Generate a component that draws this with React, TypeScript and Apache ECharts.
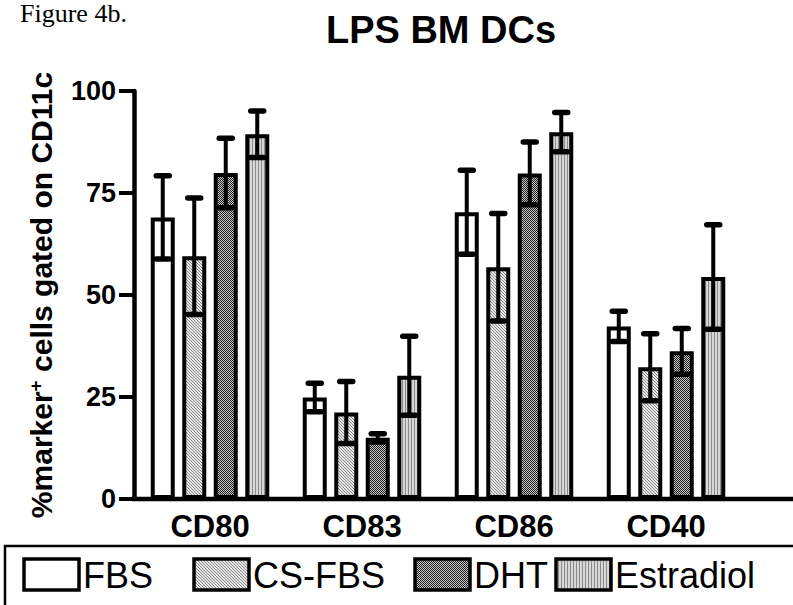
import React, { useEffect, useRef } from 'react';
import * as echarts from 'echarts';

const categories = ['CD80', 'CD83', 'CD86', 'CD40'];
const seriesNames = ['FBS', 'CS-FBS', 'DHT', 'Estradiol'];
const fbsValues = [69, 24.9, 70.3, 42.3];
const fbsErrors = [10.2, 3.5, 10.3, 3.7];
const csFbsValues = [59.5, 21.2, 56.8, 32.3];
const csFbsErrors = [14.3, 7.6, 13.2, 8.2];
const dhtValues = [79.9, 15, 79.8, 36.2];
const dhtErrors = [8.5, 1, 7.7, 5.6];
const estradiolValues = [89.4, 30.2, 89.9, 54.4];
const estradiolErrors = [5.7, 9.7, 4.8, 12.8];
const yTicks = [0, 25, 50, 75, 100];

const FONT = '"Liberation Sans", Arial, Helvetica, sans-serif';

function makePattern(w: number, h: number, fn: (x: number, y: number) => string) {
  const c = document.createElement('canvas');
  c.width = w;
  c.height = h;
  const ctx = c.getContext('2d')!;
  for (let y = 0; y < h; y++) {
    for (let x = 0; x < w; x++) {
      ctx.fillStyle = fn(x, y);
      ctx.fillRect(x, y, 1, 1);
    }
  }
  return { image: c, repeat: 'repeat', imageWidth: w, imageHeight: h } as any;
}

function fills() {
  return [
    '#ffffff',
    makePattern(3, 3, (x, y) => (((x - y + 3) % 3) === 0 ? '#8a8a8a' : '#e6e6e6')),
    makePattern(2, 2, (x, y) => ((x + y) % 2 === 0 ? '#1e1e1e' : '#c8c8c8')),
    makePattern(3, 1, (x) => (x === 0 ? '#8c8c8c' : '#d6d6d6')),
  ];
}

export default function App() {
  const ref = useRef<HTMLDivElement>(null);
  useEffect(() => {
    if (!ref.current) return;
    const chart = echarts.init(ref.current, null, { renderer: 'svg' });
    const values = [fbsValues, csFbsValues, dhtValues, estradiolValues];
    const errors = [fbsErrors, csFbsErrors, dhtErrors, estradiolErrors];
    const barFills = fills();
    const legendFills = fills();
    const barWidth = 24;
    const gapPx = 7.5;
    const step = barWidth + gapPx;

    const barSeries = seriesNames.map((name, i) => ({
      type: 'bar',
      name,
      data: values[i],
      barWidth,
      barGap: (gapPx / barWidth) * 100 + '%',
      itemStyle: { color: barFills[i], borderColor: '#000', borderWidth: 4 },
      z: 2,
    }));

    const errSeries = seriesNames.map((name, i) => {
      const offset = (i - 1.5) * step;
      return {
        type: 'custom',
        name: name + ' error',
        z: 5,
        data: categories.map((_, ci) => [ci, values[i][ci], errors[i][ci]]),
        encode: { x: 0, y: 1 },
        renderItem: (params: any, api: any) => {
          const ci = api.value(0);
          const v = api.value(1);
          const e = api.value(2);
          const x = api.coord([ci, v])[0] + offset;
          const yh = api.coord([ci, v + e])[1];
          const yl = api.coord([ci, v - e])[1];
          const cap = 6.5;
          return {
            type: 'group',
            children: [
              { type: 'line', shape: { x1: x, y1: yh, x2: x, y2: yl }, style: { stroke: '#000', lineWidth: 4 } },
              { type: 'line', shape: { x1: x - cap, y1: yh, x2: x + cap, y2: yh }, style: { stroke: '#000', lineWidth: 5.5, lineCap: 'round' } },
              { type: 'line', shape: { x1: x - cap, y1: yl, x2: x + cap, y2: yl }, style: { stroke: '#000', lineWidth: 5.5, lineCap: 'round' } },
            ],
          };
        },
      };
    });

    const legendX = [24, 194, 415, 556];
    const legendGraphics: any[] = [];
    seriesNames.forEach((name, i) => {
      legendGraphics.push({
        type: 'rect',
        shape: { x: legendX[i], y: 559, width: 55, height: 31 },
        style: { fill: legendFills[i], stroke: '#000', lineWidth: 3.5 },
      });
      legendGraphics.push({
        type: 'text',
        style: {
          x: legendX[i] + 59,
          y: 575,
          text: name,
          font: '36px ' + FONT,
          fill: '#000',
          verticalAlign: 'middle',
        },
      });
    });

    chart.setOption({
      animation: false,
      backgroundColor: '#fff',
      title: {
        text: 'LPS BM DCs',
        left: 436,
        top: 6,
        textAlign: 'center',
        textStyle: { fontFamily: FONT, fontWeight: 'bold', fontSize: 38, color: '#000' },
      },
      grid: { left: 134, right: 51, top: 91, bottom: 106 },
      xAxis: {
        type: 'category',
        data: categories,
        axisLine: { show: false },
        axisTick: { alignWithLabel: true, length: 9, lineStyle: { color: '#000', width: 4 } },
        axisLabel: { fontFamily: FONT, fontWeight: 'bold', fontSize: 31, color: '#000', margin: 12 },
      },
      yAxis: {
        type: 'value',
        min: yTicks[0],
        max: yTicks[yTicks.length - 1],
        interval: 25,
        name: '{m|%marker}{s|+}{m| cells gated on CD11c}',
        nameLocation: 'middle',
        nameGap: 78,
        nameTextStyle: {
          fontFamily: FONT,
          fontWeight: 'bold',
          fontSize: 30,
          color: '#000',
          rich: {
            m: { fontFamily: FONT, fontWeight: 'bold', fontSize: 30, color: '#000' },
            s: { fontFamily: FONT, fontWeight: 'bold', fontSize: 19, color: '#000', verticalAlign: 'top' },
          },
        },
        axisLine: { show: true, lineStyle: { color: '#000', width: 4.5 } },
        axisTick: { show: true, length: 15, lineStyle: { color: '#000', width: 4 } },
        axisLabel: { fontFamily: FONT, fontWeight: 'bold', fontSize: 27, color: '#000', margin: 18 },
        splitLine: { show: false },
      },
      graphic: [
        {
          type: 'text',
          style: { x: 20, y: 0, text: 'Figure 4b.', font: '26px "Liberation Serif", "Times New Roman", serif', fill: '#000', verticalAlign: 'top' },
        },
        { type: 'line', z: 10, shape: { x1: 131.75, y1: 499, x2: 800, y2: 499 }, style: { stroke: '#000', lineWidth: 4.5 } },
        { type: 'rect', shape: { x: 5, y: 546, width: 820, height: 120 }, style: { fill: 'none', stroke: '#000', lineWidth: 2.5 } },
        ...legendGraphics,
      ],
      series: [...barSeries, ...errSeries],
    });
    return () => chart.dispose();
  }, []);
  return <div ref={ref} style={{ position: 'fixed', left: 0, top: 0, width: 793, height: 605 }} />;
}
